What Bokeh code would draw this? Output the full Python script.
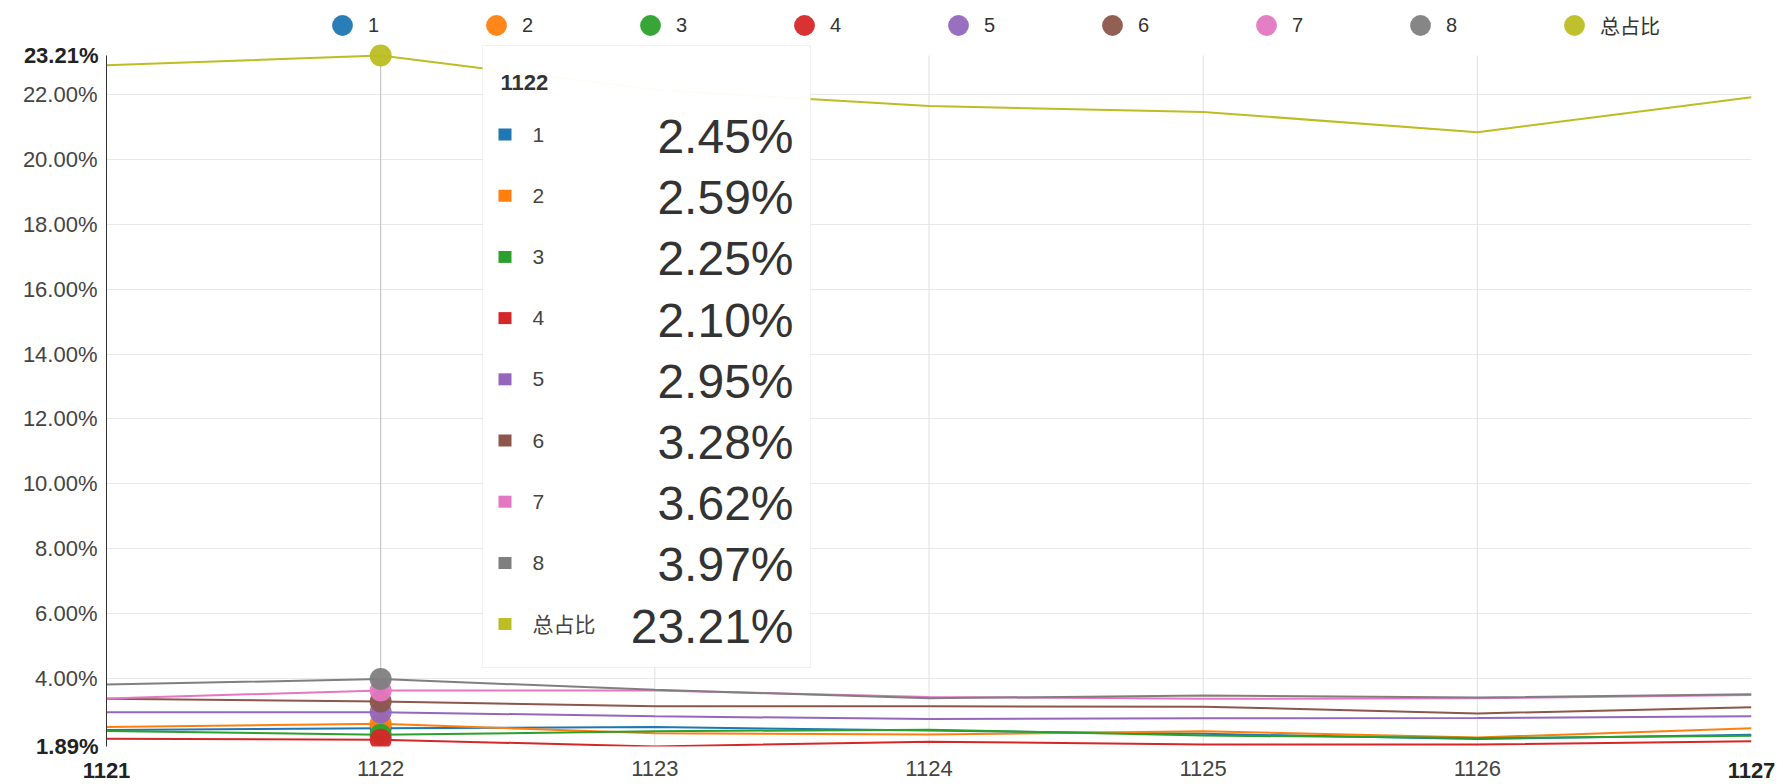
from bokeh.plotting import figure
from bokeh.models import (FixedTicker, PrintfTickFormatter, Label, BoxAnnotation,
                          Legend, LegendItem, Range1d, LinearAxis)
from bokeh.embed import file_html
from bokeh.resources import INLINE

# ---------------- data ----------------
periods = [1121, 1122, 1123, 1124, 1125, 1126, 1127]
series_names = ["1", "2", "3", "4", "5", "6", "7", "8", "总占比"]
s1 = [2.40, 2.45, 2.49, 2.38, 2.28, 2.12, 2.25]
s2 = [2.49, 2.59, 2.30, 2.26, 2.36, 2.17, 2.45]
s3 = [2.37, 2.25, 2.36, 2.41, 2.23, 2.15, 2.22]
s4 = [2.13, 2.10, 1.89, 2.04, 1.95, 1.95, 2.05]
s5 = [2.95, 2.95, 2.82, 2.74, 2.76, 2.77, 2.82]
s6 = [3.36, 3.28, 3.13, 3.13, 3.12, 2.91, 3.10]
s7 = [3.37, 3.62, 3.62, 3.42, 3.36, 3.38, 3.48]
s8 = [3.80, 3.97, 3.64, 3.38, 3.46, 3.40, 3.50]
total = [22.91, 23.21, 22.15, 21.65, 21.47, 20.84, 21.92]
series_values = [s1, s2, s3, s4, s5, s6, s7, s8, total]
colors = ["#1f77b4", "#ff7f0e", "#2ca02c", "#d62728", "#9467bd",
          "#8c564b", "#e377c2", "#7f7f7f", "#bcbd22"]
y_ticks = [4, 6, 8, 10, 12, 14, 16, 18, 20, 22]
x_ticks = [1122, 1123, 1124, 1125, 1126]
hover_index = 1

FONT = "Liberation Sans, Noto Sans CJK SC"
all_vals = [v for s in series_values for v in s]
y_min, y_max = min(all_vals), max(all_vals)

# ---------------- layout ----------------
W, H = 1783, 784
FRAME_L, FRAME_R = 106, 1751
DATA_TOP, FRAME_B = 55, 746       # pixel rows of y_max / y_min
# frame reaches the top of the canvas so legend/tooltip/top marker are not clipped
y_hi = y_max + (y_max - y_min) * DATA_TOP / (FRAME_B - DATA_TOP)

p = figure(width=W, height=H, output_backend="svg", toolbar_location=None,
           x_range=Range1d(periods[0], periods[-1]),
           y_range=Range1d(y_min, y_hi),
           min_border_left=FRAME_L, min_border_right=W - FRAME_R,
           min_border_top=0, min_border_bottom=H - FRAME_B)
p.outline_line_color = None
p.background_fill_color = "white"

def style_axis(ax, bold=False):
    ax.major_tick_out = 0
    ax.major_tick_in = 0
    ax.minor_tick_out = 0
    ax.minor_tick_in = 0
    ax.major_label_text_font_size = "22px"
    ax.major_label_text_font = FONT
    ax.major_label_text_color = "#222222" if bold else "#444444"
    ax.major_label_text_font_style = "bold" if bold else "normal"

# y axes: regular ticks + bold extremes
yax = p.yaxis[0]
yax.ticker = FixedTicker(ticks=y_ticks)
yax.formatter = PrintfTickFormatter(format="%.2f%%")
style_axis(yax)
yax.axis_line_color = "#333333"
yax.bounds = (y_min, y_max)
yax.major_label_standoff = 9

yax_b = LinearAxis(ticker=FixedTicker(ticks=[y_min, y_max]),
                   formatter=PrintfTickFormatter(format="%.2f%%"))
style_axis(yax_b, bold=True)
yax_b.axis_line_color = None
yax_b.major_label_standoff = -79
p.add_layout(yax_b, "left")

# x axes: regular ticks + bold extremes
xax = p.xaxis[0]
xax.ticker = FixedTicker(ticks=x_ticks)
style_axis(xax)
xax.axis_line_color = None
xax.major_label_standoff = 14

xax_b = LinearAxis(ticker=FixedTicker(ticks=[periods[0], periods[-1]]))
style_axis(xax_b, bold=True)
xax_b.axis_line_color = None
xax_b.major_label_standoff = -16
p.add_layout(xax_b, "below")

p.ygrid.ticker = FixedTicker(ticks=y_ticks)
p.ygrid.grid_line_color = "#e8e8e8"
p.xgrid.visible = False

# vertical grid lines limited to the data band
p.segment(x0=x_ticks, x1=x_ticks, y0=[y_min] * len(x_ticks),
          y1=[y_max] * len(x_ticks), line_color="#e0e0e0", line_width=1)

# lines
for s, c in zip(series_values, colors):
    p.line(periods, s, line_color=c, line_width=2)

# hover crosshair
p.segment(x0=[periods[hover_index]], x1=[periods[hover_index]], y0=[y_min],
          y1=[y_max], line_color="#c4c4c4", line_width=1)

# highlighted points at hover period (also used for legend)
items = []
for name, s, c in zip(series_names, series_values, colors):
    r = p.scatter([periods[hover_index]], [s[hover_index]], size=22,
                  fill_color=c, line_color=None, fill_alpha=0.95)
    items.append(LegendItem(label=name, renderers=[r]))

legend = Legend(items=items, orientation="horizontal",
                location=(210, FRAME_B - 53),
                glyph_width=52, glyph_height=56,
                label_standoff=0, label_width=70, spacing=32,
                padding=0, margin=0,
                border_line_color=None, background_fill_alpha=0,
                label_text_font=FONT, label_text_font_size="20px",
                label_text_color="#333333")
p.add_layout(legend)

# tooltip box (canvas pixels)
p.add_layout(BoxAnnotation(left=482, right=810, top=45, bottom=667,
                           left_units="canvas", right_units="canvas",
                           top_units="canvas", bottom_units="canvas",
                           fill_color="white", fill_alpha=0.97,
                           line_color="#cccccc", line_width=1, level="overlay"))
p.add_layout(Label(x=500, y=82, x_units="canvas", y_units="canvas",
                   text=str(periods[hover_index]), text_align="left",
                   text_baseline="middle", text_font=FONT,
                   text_font_size="22px", text_font_style="bold",
                   text_color="#333333", level="overlay"))
row_top, row_step = 134, 61.2
for i, (name, s, c) in enumerate(zip(series_names, series_values, colors)):
    ry = row_top + i * row_step
    p.add_layout(BoxAnnotation(left=498, right=511, top=ry - 6, bottom=ry + 6,
                               left_units="canvas", right_units="canvas",
                               top_units="canvas", bottom_units="canvas",
                               fill_color=c, fill_alpha=1, line_color=None,
                               level="overlay"))
    p.add_layout(Label(x=532, y=ry, x_units="canvas", y_units="canvas",
                       text=name, text_align="left", text_baseline="middle",
                       text_font=FONT, text_font_size="21px",
                       text_color="#444444", level="overlay"))
    p.add_layout(Label(x=793, y=ry + 2, x_units="canvas", y_units="canvas",
                       text=f"{s[hover_index]:.2f}%", text_align="right",
                       text_baseline="middle", text_font=FONT,
                       text_font_size="48px", text_color="#333333",
                       level="overlay"))

open("out.html", "w").write(file_html(p, INLINE))
